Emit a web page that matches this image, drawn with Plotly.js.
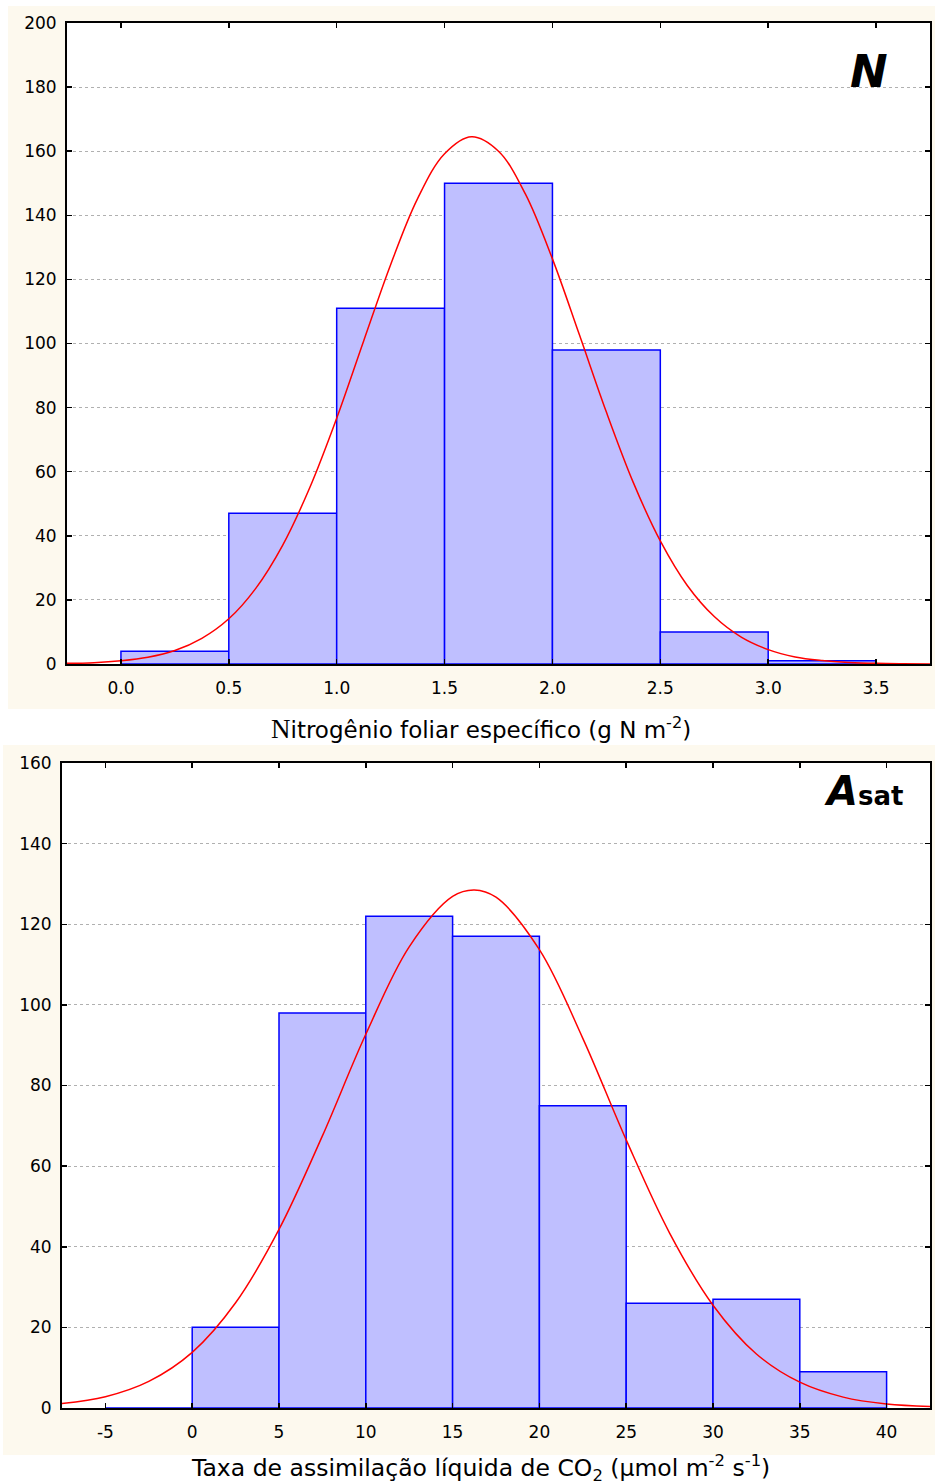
<!DOCTYPE html>
<html>
<head>
<meta charset="utf-8">
<script src="https://cdn.plot.ly/plotly-3.0.1.min.js"></script>
<style>html,body{margin:0;padding:0;background:#fff;}#chart{width:935px;height:1484px;}</style>
</head>
<body>
<div id="chart"></div>
<script>
// Top panel: specific leaf nitrogen (g N m-2)
const nBinCenters = [0.25, 0.75, 1.25, 1.75, 2.25, 2.75, 3.25];
const nBinWidth = 0.5;
const nCounts = [4, 47, 111, 150, 98, 10, 1];
const nCurveX = [-0.25, -0.125, 0, 0.125, 0.25, 0.375, 0.5, 0.625, 0.75, 0.875, 1.0, 1.125, 1.25, 1.375, 1.5, 1.625, 1.75, 1.875, 2.0, 2.125, 2.25, 2.375, 2.5, 2.625, 2.75, 2.875, 3.0, 3.125, 3.25, 3.375, 3.5, 3.625, 3.75];
const nCurveY = [0.2, 0.4, 1.0, 2.1, 4.2, 8.0, 14.1, 23.6, 37.1, 55.0, 76.7, 100.8, 124.6, 145.2, 159.2, 164.5, 160.0, 146.6, 126.4, 102.7, 78.6, 56.6, 38.4, 24.5, 14.8, 8.4, 4.5, 2.2, 1.1, 0.5, 0.2, 0.08, 0.03];
const nTickVals = [0, 0.5, 1, 1.5, 2, 2.5, 3, 3.5];
const nTickText = ["0.0", "0.5", "1.0", "1.5", "2.0", "2.5", "3.0", "3.5"];
const nYTicks = [0, 20, 40, 60, 80, 100, 120, 140, 160, 180, 200];

// Bottom panel: net CO2 assimilation (umol m-2 s-1)
const aBinCenters = [-2.5, 2.5, 7.5, 12.5, 17.5, 22.5, 27.5, 32.5, 37.5];
const aBinWidth = 5;
const aCounts = [0, 20, 98, 122, 117, 75, 26, 27, 9];
const aCurveX = [-7.5, -5, -2.5, 0, 2.5, 5, 7.5, 10, 12.5, 15, 16.25, 17.5, 20, 22.5, 25, 27.5, 30, 32.5, 35, 37.5, 40, 42.5];
const aCurveY = [1.1, 2.8, 6.6, 13.8, 26.1, 44.3, 67.5, 92.7, 114.4, 126.9, 128.5, 126.7, 113.7, 91.7, 66.5, 43.4, 25.5, 13.4, 6.4, 2.7, 1.0, 0.4];
const aTickVals = [-5, 0, 5, 10, 15, 20, 25, 30, 35, 40];
const aTickText = ["-5", "0", "5", "10", "15", "20", "25", "30", "35", "40"];
const aYTicks = [0, 20, 40, 60, 80, 100, 120, 140, 160];

const W = 935, H = 1484;
const px = v => v / W;
const py = v => 1 - v / H;

const barColor = 'rgb(191,191,255)';
const barLine = 'rgb(0,0,255)';
const curveColor = 'rgb(255,0,0)';
const cream = 'rgb(253,249,238)';
const fontFam = '"DejaVu Sans", Arial, sans-serif';

const traces = [
  {type: 'bar', x: nBinCenters, y: nCounts, width: nCounts.map(() => nBinWidth),
   marker: {color: barColor, line: {color: barLine, width: 1.5}}, xaxis: 'x', yaxis: 'y'},
  {type: 'scatter', mode: 'lines', x: nCurveX, y: nCurveY, line: {color: curveColor, width: 1.5, shape: 'spline', smoothing: 1},
   xaxis: 'x', yaxis: 'y'},
  {type: 'bar', x: aBinCenters, y: aCounts, width: aCounts.map(() => aBinWidth),
   marker: {color: barColor, line: {color: barLine, width: 1.5}}, xaxis: 'x2', yaxis: 'y2'},
  {type: 'scatter', mode: 'lines', x: aCurveX, y: aCurveY, line: {color: curveColor, width: 1.5, shape: 'spline', smoothing: 1},
   xaxis: 'x2', yaxis: 'y2'}
];

const axisCommon = {
  showline: true, linecolor: '#000', linewidth: 2, mirror: 'ticks',
  ticks: 'inside', ticklen: 5, tickwidth: 1.5, tickcolor: '#000',
  tickfont: {family: fontFam, size: 17, color: '#000'}, zeroline: false
};

const layout = {
  width: W, height: H,
  margin: {l: 0, r: 0, t: 0, b: 0},
  paper_bgcolor: '#ffffff', plot_bgcolor: '#ffffff',
  showlegend: false, bargap: 0,
  font: {family: fontFam, color: '#000'},
  xaxis: Object.assign({}, axisCommon, {
    domain: [px(67), px(930)], range: [-0.25, 3.75], anchor: 'y',
    tickvals: nTickVals, ticktext: nTickText, showgrid: false, ticklabelstandoff: 8
  }),
  yaxis: Object.assign({}, axisCommon, {
    domain: [py(664), py(23)], range: [0, 200], anchor: 'x',
    tickvals: nYTicks, showgrid: true, gridcolor: '#b0b0b0', gridwidth: 1, griddash: 'dot', ticklabelstandoff: 5
  }),
  xaxis2: Object.assign({}, axisCommon, {
    domain: [px(62), px(930)], range: [-7.5, 42.5], anchor: 'y2',
    tickvals: aTickVals, ticktext: aTickText, showgrid: false, ticklabelstandoff: 8
  }),
  yaxis2: Object.assign({}, axisCommon, {
    domain: [py(1408), py(763)], range: [0, 160], anchor: 'x2',
    tickvals: aYTicks, showgrid: true, gridcolor: '#b0b0b0', gridwidth: 1, griddash: 'dot', ticklabelstandoff: 5
  }),
  shapes: [
    {type: 'rect', xref: 'paper', yref: 'paper', x0: px(8), x1: 1, y0: py(709), y1: py(6),
     fillcolor: cream, line: {width: 0}, layer: 'below'},
    {type: 'rect', xref: 'paper', yref: 'paper', x0: px(3), x1: 1, y0: py(1455), y1: py(745),
     fillcolor: cream, line: {width: 0}, layer: 'below'},
    {type: 'rect', xref: 'x domain', yref: 'y domain', x0: 0, x1: 1, y0: 0, y1: 1,
     fillcolor: '#ffffff', line: {width: 0}, layer: 'below'},
    {type: 'rect', xref: 'x2 domain', yref: 'y2 domain', x0: 0, x1: 1, y0: 0, y1: 1,
     fillcolor: '#ffffff', line: {width: 0}, layer: 'below'}
  ],
  annotations: [
    {xref: 'paper', yref: 'paper', x: px(869), y: py(72), xanchor: 'center', yanchor: 'middle', showarrow: false,
     text: '<b><i>N</i></b>', font: {family: fontFam, size: 45, color: '#000'}},
    {xref: 'paper', yref: 'paper', x: px(863), y: py(791), xanchor: 'center', yanchor: 'middle', showarrow: false,
     text: '<b><i>A</i><span style="font-size:26px">sat</span></b>', font: {family: fontFam, size: 40, color: '#000'}},
    {xref: 'paper', yref: 'paper', x: px(481), y: py(728), xanchor: 'center', yanchor: 'middle', showarrow: false,
     text: '<span style="font-family:Liberation Serif, Times New Roman, serif;font-size:27px">N</span>itrogênio foliar específico (g N m<sup>-2</sup>)',
     font: {family: fontFam, size: 23, color: '#000'}},
    {xref: 'paper', yref: 'paper', x: px(481), y: py(1468), xanchor: 'center', yanchor: 'middle', showarrow: false,
     text: 'Taxa de assimilação líquida de CO<sub>2</sub> (µmol m<sup>-2</sup> s<sup>-1</sup>)',
     font: {family: fontFam, size: 23.5, color: '#000'}}
  ]
};

Plotly.newPlot('chart', traces, layout, {displayModeBar: false, staticPlot: true});
</script>
</body>
</html>
